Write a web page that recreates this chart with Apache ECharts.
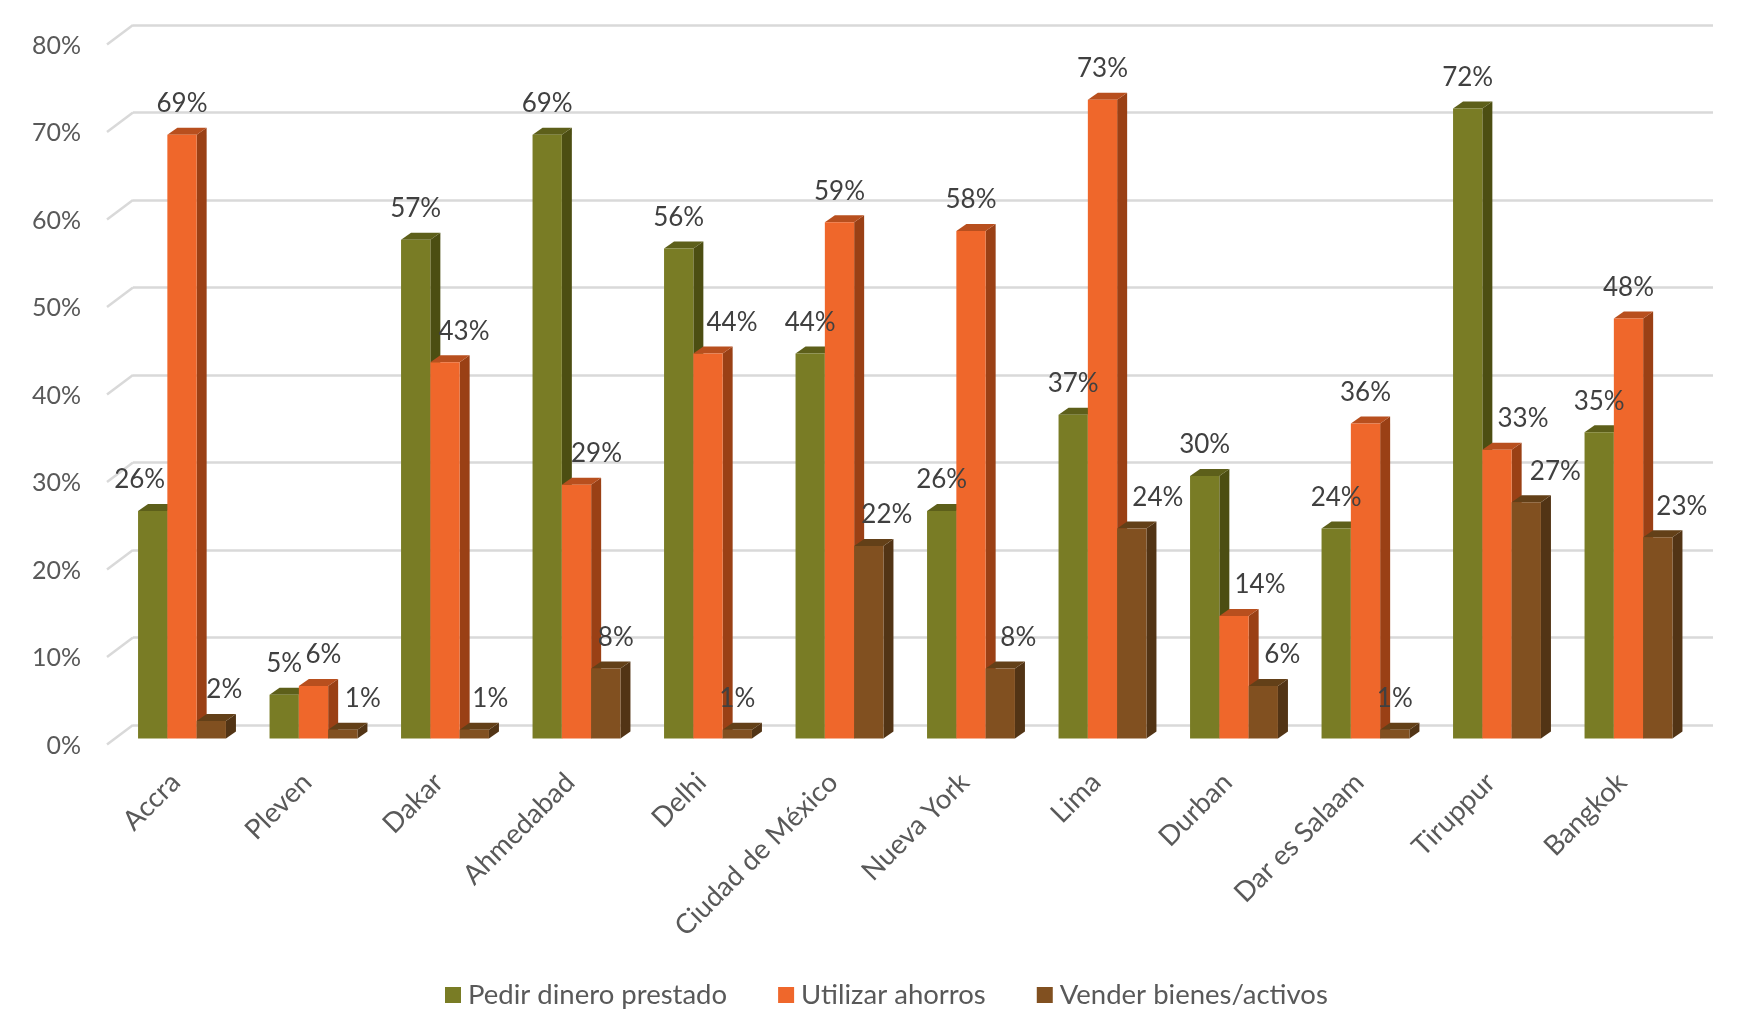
<!DOCTYPE html>
<html>
<head>
<meta charset="utf-8">
<title>Chart</title>
<style>
  html, body { margin: 0; background: #fff; }
  #chart { width: 1738px; height: 1012px; }
</style>
<script src="https://cdn.jsdelivr.net/npm/echarts@6/dist/echarts.min.js"></script>
</head>
<body>
<div id="chart"></div>
<script>
const categories = ['Accra', 'Pleven', 'Dakar', 'Ahmedabad', 'Delhi', 'Ciudad de México', 'Nueva York', 'Lima', 'Durban', 'Dar es Salaam', 'Tiruppur', 'Bangkok']
const pedir = [26, 5, 57, 69, 56, 44, 26, 37, 30, 24, 72, 35]
const utilizar = [69, 6, 43, 29, 44, 59, 58, 73, 14, 36, 33, 48]
const vender = [2, 1, 1, 8, 1, 22, 8, 24, 6, 1, 27, 23]
const yTicks = [0, 10, 20, 30, 40, 50, 60, 70, 80]

// labels the original chart nudged sideways, in px
const pedirLabelDx = [-13, 0, 0, 0, 0, 0, 0, 0, 0, 0, 0, 0]
const utilizarLabelDx = [0, 10, 19, 20, 24, 0, 0, 0, 26, 0, 26, 0]
const venderLabelDx = [13, 20, 16, 10, 0, 18, 18, 26, 19, 0, 29, 24]

const FONT = 'Lato, "Open Sans", sans-serif'
const BAR_W = 29.3
const DEPTH_X = 10
const DEPTH_Y = 7
const WALL_X = 26
const WALL_Y = 19.5

function barSeries(name, values, labelDx, slot, front, top, side) {
  return {
    name,
    type: 'custom',
    coordinateSystem: 'cartesian2d',
    xAxisIndex: 0,
    yAxisIndex: 0,
    itemStyle: { color: front },
    data: values.map((v, i) => [i, v]),
    encode: { x: 0, y: 1 },
    renderItem(params, api) {
      const i = api.value(0)
      const v = api.value(1)
      const p = api.coord([i, v])
      const base = api.coord([i, 0])
      const x = p[0] + (slot - 1.5) * BAR_W
      const y = p[1]
      const r = x + BAR_W
      return {
        type: 'group',
        children: [
          {
            type: 'polygon',
            shape: { points: [[r, y], [r + DEPTH_X, y - DEPTH_Y], [r + DEPTH_X, base[1] - DEPTH_Y], [r, base[1]]] },
            style: { fill: side }
          },
          {
            type: 'polygon',
            shape: { points: [[x, y], [x + DEPTH_X, y - DEPTH_Y], [r + DEPTH_X, y - DEPTH_Y], [r, y]] },
            style: { fill: top }
          },
          {
            type: 'rect',
            shape: { x, y, width: BAR_W, height: base[1] - y },
            style: { fill: front }
          },
          {
            type: 'text',
            z2: 100,
            style: {
              text: v + '%',
              x: x + BAR_W / 2 + labelDx[i],
              y: y - 31,
              align: 'center',
              verticalAlign: 'middle',
              fill: '#404040',
              font: '26px ' + FONT
            }
          }
        ]
      }
    }
  }
}

const chart = echarts.init(document.getElementById('chart'))

chart.setOption({
  animation: false,
  backgroundColor: '#ffffff',
  legend: {
    data: ['Pedir dinero prestado', 'Utilizar ahorros', 'Vender bienes/activos'],
    left: 440,
    top: 976,
    icon: 'rect',
    itemWidth: 16,
    itemHeight: 16,
    itemGap: 51,
    textStyle: { color: '#595959', fontSize: 27.5, fontFamily: FONT, padding: [0, 0, 0, 2] }
  },
  grid: [
    // front plane: the bars
    { left: 116.25, width: 1578, top: 38.5, height: 700 },
    // back wall: the gridlines
    { left: 133, width: 1580, top: 25, height: 700 },
    // left edge of the floor: the y labels
    { left: 107, width: 26, top: 45.5, height: 700 }
  ],
  xAxis: [
    {
      gridIndex: 0,
      type: 'category',
      data: categories,
      axisLine: { show: false },
      axisTick: { show: false },
      axisLabel: { rotate: 45, margin: 33, padding: [0, 9, 0, 0], interval: 0, color: '#595959', fontSize: 27.5, fontFamily: FONT }
    },
    { gridIndex: 1, type: 'value', show: false },
    { gridIndex: 2, type: 'value', show: false, min: 0, max: 1 }
  ],
  yAxis: [
    { gridIndex: 0, type: 'value', min: 0, max: 80, interval: 10, show: false },
    {
      gridIndex: 1,
      type: 'value',
      min: 0,
      max: 80,
      interval: 10,
      axisLine: { show: false },
      axisTick: { show: false },
      axisLabel: { show: false },
      splitLine: { lineStyle: { color: '#d9d9d9', width: 2.5 } }
    },
    {
      gridIndex: 2,
      type: 'value',
      min: 0,
      max: 80,
      interval: 10,
      axisLine: { show: false },
      axisTick: { show: false },
      splitLine: { show: false },
      axisLabel: { margin: 26, color: '#595959', fontSize: 25, fontFamily: FONT, formatter: '{value}%' }
    }
  ],
  series: [
    {
      type: 'custom',
      coordinateSystem: 'cartesian2d',
      xAxisIndex: 2,
      yAxisIndex: 2,
      silent: true,
      data: yTicks.map((t) => [0, t]),
      renderItem(params, api) {
        const p = api.coord([0, api.value(1)])
        return {
          type: 'line',
          shape: { x1: p[0], y1: p[1] - 1, x2: p[0] + WALL_X, y2: p[1] - 1 - WALL_Y },
          style: { stroke: '#d9d9d9', lineWidth: 2.5 }
        }
      }
    },
    barSeries('Pedir dinero prestado', pedir, pedirLabelDx, 0, '#797c25', '#5d5f1a', '#4c4e12'),
    barSeries('Utilizar ahorros', utilizar, utilizarLabelDx, 1, '#ef672b', '#b84f1e', '#9a4015'),
    barSeries('Vender bienes/activos', vender, venderLabelDx, 2, '#815020', '#634018', '#523415')
  ]
})
</script>
</body>
</html>
